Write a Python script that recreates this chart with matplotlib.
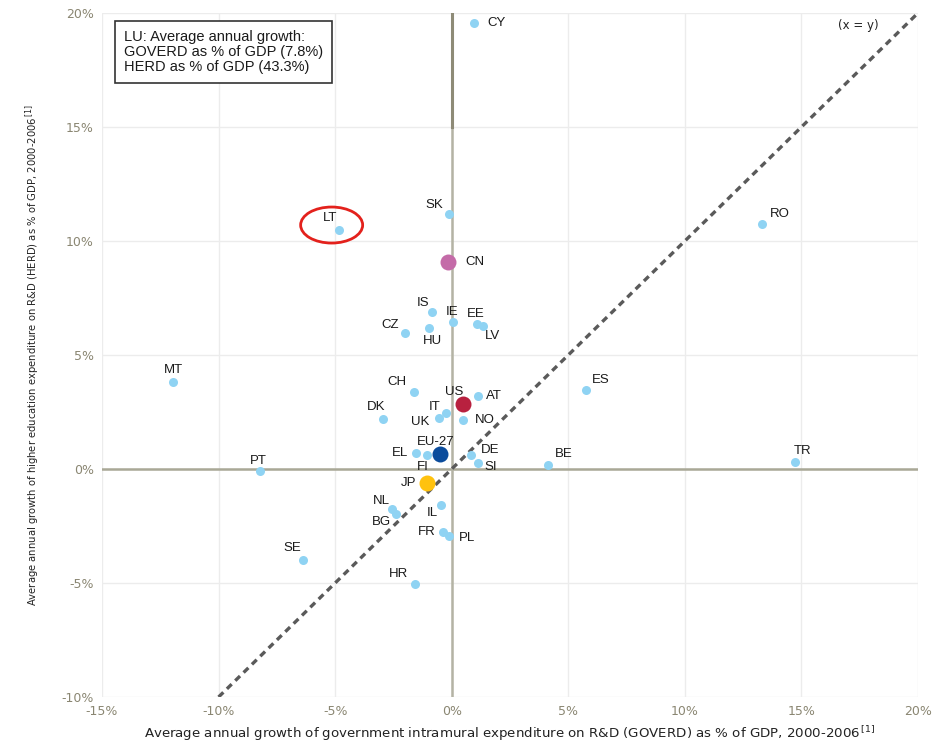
import matplotlib
matplotlib.use("Agg")
from matplotlib import pyplot as plt
from matplotlib.patches import Ellipse
from matplotlib.ticker import FuncFormatter

# average annual growth 2000-2006, in %
countries = ["CY", "SK", "LT", "RO", "CN", "IS", "IE", "EE", "LV", "HU", "CZ",
             "CH", "US", "AT", "IT", "UK", "NO", "DK", "EU-27", "EL", "FI",
             "DE", "SI", "JP", "NL", "BG", "IL", "FR", "PL", "HR", "MT", "PT",
             "SE", "ES", "BE", "TR"]
goverd = [0.96, -0.12, -4.83, 13.3, -0.16, -0.85, 0.06, 1.09, 1.36, -0.99, -2.0,
          -1.63, 0.47, 1.12, -0.24, -0.53, 0.47, -2.96, -0.49, -1.52, -1.05,
          0.82, 1.12, -1.05, -2.55, -2.40, -0.46, -0.36, -0.12, -1.57, -11.95, -8.22,
          -6.38, 5.77, 4.13, 14.73]
herd = [19.56, 11.18, 10.48, 10.75, 9.08, 6.89, 6.43, 6.35, 6.29, 6.2, 5.95,
        3.39, 2.84, 3.21, 2.44, 2.22, 2.15, 2.19, 0.66, 0.70, 0.61,
        0.61, 0.25, -0.63, -1.77, -1.99, -1.59, -2.75, -2.92, -5.06, 3.82, -0.09,
        -3.99, 3.46, 0.18, 0.31]

# highlighted economies get their own colour and a bigger dot
highlight = {"CN": "#c46ba8", "US": "#b8213f", "EU-27": "#0b4c9c", "JP": "#ffc20e"}

# label offsets in pixels from the dot (dx, dy with y up)
label_offsets = {
    "CY": (21, 0), "SK": (-14, 9), "LT": (-9, 12), "RO": (16, 10), "CN": (25, 0),
    "IS": (-9, 9), "IE": (-1, 10), "EE": (-1, 10), "LV": (9, -10), "HU": (4, -13),
    "CZ": (-14, 8), "CH": (-15, 10), "US": (-8, 12), "AT": (16, 0), "IT": (-14, 6),
    "UK": (-18, -4), "NO": (20, 0), "DK": (-7, 12), "EU-27": (-5, 12), "EL": (-16, 0),
    "FI": (-4, -12), "DE": (18, 5), "SI": (15, -4), "JP": (-19, 0), "NL": (-10, 8),
    "BG": (-13, -8), "IL": (-9, -8), "FR": (-16, 0), "PL": (18, -2), "HR": (-15, 10),
    "MT": (0, 12), "PT": (-2, 10), "SE": (-10, 12), "ES": (14, 10), "BE": (15, 11),
    "TR": (7, 11),
}

fig = plt.figure(figsize=(9.48, 7.41), dpi=100)
ax = fig.add_axes([102 / 948, 44 / 741, 816 / 948, 684 / 741])

ax.set_xlim(-15, 20)
ax.set_ylim(-10, 20)
ax.set_xticks(range(-15, 21, 5))
ax.set_yticks(range(-10, 21, 5))
pct = FuncFormatter(lambda v, p: "%d%%" % v)
ax.xaxis.set_major_formatter(pct)
ax.yaxis.set_major_formatter(pct)
ax.grid(True, color="#ececec", linewidth=1)
ax.set_axisbelow(True)
for s in ax.spines.values():
    s.set_visible(False)
ax.tick_params(length=0, labelsize=9, labelcolor="#8a8672", pad=6)

# zero lines
ax.axhline(0, color="#a9a896", linewidth=1.8, zorder=1)
ax.plot([0, 0], [-10, 15], color="#b4b3a4", linewidth=1.8, zorder=1)
ax.plot([0, 0], [15, 20], color="#8e8b77", linewidth=2.2, zorder=1)

# x = y reference line
ax.plot([-10, 20], [-10, 20], color="#5a5a5a", linewidth=2.4,
        linestyle=(0, (2, 1.5)), zorder=2)
ax.text(17.43, 19.47, "(x = y)", ha="center", va="center", fontsize=8.5,
        color="#222222")

for c, x, y in zip(countries, goverd, herd):
    if c in highlight:
        ax.plot(x, y, marker="o", markersize=11.5, color=highlight[c],
                markeredgewidth=0, zorder=4)
    else:
        ax.plot(x, y, marker="o", markersize=6.5, color="#8fd3f3",
                markeredgewidth=0, zorder=3)
    dx, dy = label_offsets[c]
    ha = "center" if abs(dx) < 10 else ("left" if dx > 0 else "right")
    if ha != "center":
        dx = dx - 8 if dx > 0 else dx + 8
    ax.annotate(c, (x, y), xytext=(dx, dy), textcoords="offset pixels",
                ha=ha, va="center", fontsize=9.5, color="#1a1a1a",
                family="Liberation Sans", zorder=5)

# circle round LT
ax.add_patch(Ellipse((-5.15, 10.7), 2.66, 1.58, fill=False,
                     edgecolor="#e3211c", linewidth=2, zorder=5))

ax.text(0.027, 0.975,
        "LU: Average annual growth:\nGOVERD as % of GDP (7.8%)\nHERD as % of GDP (43.3%)",
        transform=ax.transAxes, ha="left", va="top", fontsize=10.5,
        family="Liberation Sans", color="#1a1a1a", linespacing=1.1,
        bbox=dict(boxstyle="square,pad=0.6", facecolor="white",
                  edgecolor="#333333", linewidth=1.2))

ax.set_xlabel("Average annual growth of government intramural expenditure on R&D (GOVERD) "
              "as % of GDP, 2000-2006$^{\\,[1]}$", fontsize=9.6, color="#222222",
              labelpad=4)
ax.set_ylabel("Average annual growth of higher education expenditure on R&D (HERD) "
              "as % of GDP, 2000-2006$^{\\,[1]}$", fontsize=8.0, color="#222222",
              family="DejaVu Sans", fontstretch="condensed", labelpad=14)

fig.savefig("out.png", dpi=100)
